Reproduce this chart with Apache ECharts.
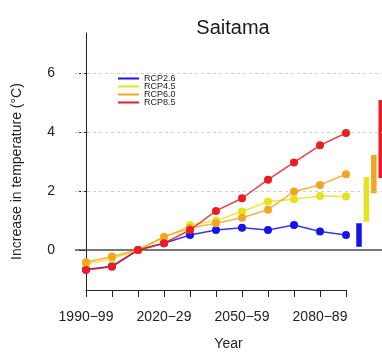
<!DOCTYPE html>
<html>
<head>
<meta charset="utf-8">
<script src="https://cdn.jsdelivr.net/npm/echarts@6/dist/echarts.min.js"></script>
<style>
  html, body { margin: 0; padding: 0; background: #fff; }
  #chart { width: 382px; height: 352px; }
</style>
</head>
<body>
<div id="chart"></div>
<script>
// Decades on the horizontal axis
const periods = ['1990−99', '2000−09', '2010−19', '2020−29', '2030−39', '2040−49',
                 '2050−59', '2060−69', '2070−79', '2080−89', '2090−99'];

// Temperature increase (°C) relative to 2010−19, per scenario
const rcp26 = [-0.66, -0.55, 0, 0.23, 0.51, 0.68, 0.76, 0.68, 0.85, 0.63, 0.51];
const rcp45 = [-0.48, -0.30, 0, 0.42, 0.84, 1.00, 1.31, 1.65, 1.73, 1.84, 1.82];
const rcp60 = [-0.42, -0.22, 0, 0.45, 0.75, 0.91, 1.10, 1.37, 1.99, 2.21, 2.58];
const rcp85 = [-0.68, -0.57, 0, 0.23, 0.68, 1.33, 1.76, 2.39, 2.98, 3.56, 3.98];

// Spread of the end-of-century projections (low / high), per scenario
const rangeLow  = [0.11, 0.96, 1.93, 2.45];
const rangeHigh = [0.91, 2.48, 3.23, 5.10];

const scenarioNames = ['RCP2.6', 'RCP4.5', 'RCP6.0', 'RCP8.5'];
const yTicks = [0, 2, 4, 6];
const gridValues = [2, 4, 6];

const colors = ['#1414e6', '#e4e41e', '#f5a424', '#ea1c24'];
const FONT = '"Liberation Sans", Arial, Helvetica, sans-serif';

const seriesValues = [rcp26, rcp45, rcp60, rcp85];

const lineSeries = seriesValues.map((vals, k) => ({
  name: scenarioNames[k],
  type: 'line',
  xAxisIndex: 0,
  yAxisIndex: 0,
  data: vals.map((v, i) => [i, v]),
  symbol: 'circle',
  symbolSize: 8,
  lineStyle: { color: colors[k], width: 1.5, opacity: 0.85 },
  itemStyle: { color: colors[k] },
  z: 3 + k,
  silent: true
}));

// Range bars sit just to the right of the last decade
const rangeData = rangeLow.map((lo, k) => [10.5 + k * 0.285, lo, rangeHigh[k], k]);

const chart = echarts.init(document.getElementById('chart'), null, { renderer: 'canvas' });

chart.setOption({
  animation: false,
  backgroundColor: '#ffffff',
  textStyle: { fontFamily: FONT },
  title: {
    text: 'Saitama',
    left: 228,
    top: 13,
    textAlign: 'center',
    textStyle: { fontFamily: FONT, fontSize: 20, fontWeight: 'normal', color: '#1a1a1a' }
  },
  legend: {
    orient: 'vertical',
    left: 113,
    top: 69,
    itemWidth: 21,
    itemHeight: 2,
    itemGap: -1,
    icon: 'rect',
    data: scenarioNames,
    textStyle: { fontFamily: FONT, fontSize: 9, lineHeight: 8, color: '#222' }
  },
  grid: [
    { left: 75, right: 0, top: 33, bottom: 62, outerBoundsMode: 'none', containLabel: false },
    { left: 86, right: 36, top: 200, bottom: 62, outerBoundsMode: 'none', containLabel: false }
  ],
  xAxis: [
    {
      gridIndex: 0,
      type: 'value',
      min: -11 / 26,
      max: -11 / 26 + 307 / 26,
      axisLine: { show: false },
      axisTick: { show: false },
      axisLabel: { show: false },
      splitLine: { show: false },
      name: 'Year',
      nameLocation: 'middle',
      nameGap: 47,
      nameTextStyle: { fontFamily: FONT, fontSize: 14, color: '#222' }
    },
    {
      gridIndex: 1,
      type: 'category',
      data: periods,
      boundaryGap: false,
      axisLine: { show: true, lineStyle: { color: '#222', width: 1 } },
      axisTick: { show: true, interval: 0, length: 7, lineStyle: { color: '#222', width: 1 } },
      axisLabel: { interval: 2, margin: 20, fontFamily: FONT, fontSize: 14, color: '#222' },
      splitLine: { show: false }
    }
  ],
  yAxis: [
    {
      gridIndex: 0,
      type: 'value',
      min: -40 / 29.4,
      max: 217 / 29.4,
      axisLine: { show: true, lineStyle: { color: '#222', width: 1 } },
      axisTick: { show: true, length: 7, customValues: yTicks, lineStyle: { color: '#222', width: 1 } },
      axisLabel: { customValues: yTicks, margin: 20, fontFamily: FONT, fontSize: 14, color: '#222' },
      splitLine: { show: false },
      name: 'Increase in temperature (°C)',
      nameLocation: 'middle',
      nameRotate: 90,
      nameGap: 51,
      nameTextStyle: { fontFamily: FONT, fontSize: 14, color: '#222', padding: [0, 20, 0, 0] }
    },
    {
      gridIndex: 1,
      type: 'value',
      show: false
    }
  ],
  series: [
    {
      // reference lines: dashed guides and the solid zero line
      name: 'guides',
      type: 'line',
      xAxisIndex: 0,
      yAxisIndex: 0,
      data: [],
      silent: true,
      z: 1,
      markLine: {
        silent: true,
        symbol: 'none',
        label: { show: false },
        animation: false,
        data: gridValues.map(v => ({
          yAxis: v,
          lineStyle: { color: '#cfcfcf', width: 1, type: [3, 3] }
        })).concat([{
          yAxis: 0,
          lineStyle: { color: '#4a4a4a', width: 1.5, type: 'solid' }
        }])
      }
    },
    {
      name: 'ranges',
      type: 'custom',
      xAxisIndex: 0,
      yAxisIndex: 0,
      data: rangeData,
      encode: { x: 0, y: [1, 2] },
      silent: true,
      z: 2,
      renderItem: function (params, api) {
        const lo = api.coord([api.value(0), api.value(1)]);
        const hi = api.coord([api.value(0), api.value(2)]);
        return {
          type: 'rect',
          shape: { x: lo[0] - 2.75, y: hi[1], width: 5.5, height: lo[1] - hi[1] },
          style: { fill: colors[api.value(3)] }
        };
      }
    }
  ].concat(lineSeries)
});
</script>
</body>
</html>
